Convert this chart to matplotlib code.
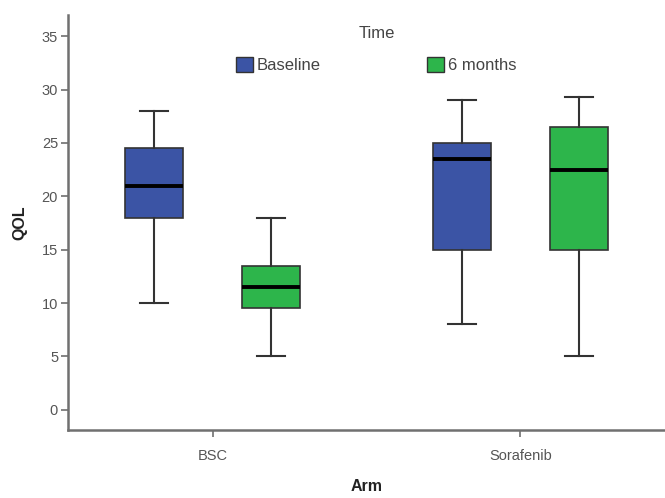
import matplotlib
matplotlib.use('Agg')
import matplotlib.pyplot as plt
from matplotlib.patches import Patch

plt.rcParams['font.family'] = ['Liberation Sans', 'DejaVu Sans']

# dados
bracos = ['BSC', 'Sorafenib']
tempos = ['Baseline', '6 months']
cores = ['#3b54a5', '#2db54b']

minimo = {'Baseline': [10, 8], '6 months': [5, 5]}
q1 = {'Baseline': [18, 15], '6 months': [9.5, 15]}
mediana = {'Baseline': [21, 23.5], '6 months': [11.5, 22.5]}
q3 = {'Baseline': [24.5, 25], '6 months': [13.5, 26.5]}
maximo = {'Baseline': [28, 29], '6 months': [18, 29.3]}

fig = plt.figure(figsize=(6.65, 4.98), dpi=100)
ax = fig.add_axes([0.102, 0.1365, 0.898, 0.8335])

deslocamento = [-0.19, 0.19]
for j, t in enumerate(tempos):
    stats = []
    for i in range(len(bracos)):
        stats.append({'whislo': minimo[t][i], 'q1': q1[t][i], 'med': mediana[t][i],
                      'q3': q3[t][i], 'whishi': maximo[t][i]})
    pos = [i + deslocamento[j] for i in range(len(bracos))]
    ax.bxp(stats, positions=pos, widths=0.19, showfliers=False, patch_artist=True,
           boxprops=dict(facecolor=cores[j], edgecolor='#333333', linewidth=1.2),
           medianprops=dict(color='black', linewidth=2.8),
           whiskerprops=dict(color='#333333', linewidth=1.5),
           capprops=dict(color='#333333', linewidth=1.5), capwidths=0.09)

ax.set_xlim(-0.47, 1.47)
ax.set_ylim(-1.9, 37)
ax.set_yticks(range(0, 36, 5))
ax.set_xticks([0, 1])
ax.set_xticklabels(bracos)

for lado in ['top', 'right']:
    ax.spines[lado].set_visible(False)
for lado in ['left', 'bottom']:
    ax.spines[lado].set_color('#707070')
    ax.spines[lado].set_linewidth(1.8)
ax.tick_params(colors='#707070', labelcolor='#555555', labelsize=10.5, width=1.2, length=5)
ax.tick_params(axis='y', pad=2)
ax.tick_params(axis='x', pad=9)

ax.set_ylabel('QOL', fontsize=11.5, fontweight='bold', color='#222222', labelpad=10)
ax.set_xlabel('Arm', fontsize=11.5, fontweight='bold', color='#222222', labelpad=11)

fig.text(0.566, 1 - 33 / 498, 'Time', ha='center', va='center', fontsize=12, color='#444444')
handles = [Patch(facecolor=cores[k], edgecolor='#333333', label=tempos[k]) for k in range(2)]
leg = fig.legend(handles=handles, ncol=2, frameon=False,
                 loc='center', bbox_to_anchor=(0.566, 1 - 65 / 498),
                 fontsize=12, columnspacing=6.4, borderpad=0,
                 handlelength=1.0, handleheight=1.0, handletextpad=0.25)
for txt in leg.get_texts():
    txt.set_color('#444444')

plt.savefig('out.png', dpi=100)
